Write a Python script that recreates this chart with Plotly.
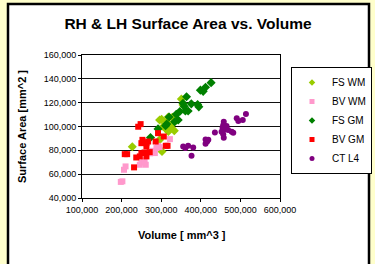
import plotly.graph_objects as go

fs_wm_x = [227000, 296000, 301000, 305000, 313000, 315000, 318000, 324000, 328000, 330000, 333000, 302000, 296000, 351000, 355000, 318000]
fs_wm_y = [83000, 105500, 106000, 100000, 97600, 104000, 95800, 98500, 107700, 102700, 96500, 79000, 88800, 123000, 118000, 108000]

bv_wm_x = [198000, 202000, 206000, 210000, 246000, 250000, 257000, 261000, 258000, 272000, 279000, 284000, 288000, 292000, 296000, 322000]
bv_wm_y = [53500, 54000, 63700, 66500, 67900, 69900, 70000, 67900, 71500, 77500, 79600, 77700, 81900, 83800, 82700, 89400]

fs_gm_x = [273000, 292000, 311000, 314000, 320000, 334000, 338000, 343000, 347000, 355000, 358000, 361000, 364000, 368000, 376000, 392000, 395000, 399000, 406000, 412000, 426000]
fs_gm_y = [90800, 98000, 100600, 102000, 108000, 104000, 110300, 105500, 112600, 119500, 117000, 113000, 125000, 113000, 119000, 118500, 116500, 130500, 129500, 133000, 136800]

bv_gm_x = [208000, 214000, 231500, 237000, 246000, 242000, 248000, 250000, 252600, 250000, 258000, 262700, 262700, 267000, 262700, 271000, 286000, 292000, 306600, 311600, 316000]
bv_gm_y = [76800, 76800, 65700, 74000, 74900, 99800, 102000, 86000, 88800, 77700, 78200, 86000, 83300, 87400, 74900, 78500, 87400, 94400, 91600, 83800, 83800]

ct_l4_x = [355500, 361000, 368000, 380800, 376600, 412000, 416000, 412000, 419000, 435600, 458000, 456600, 465000, 469000, 452400, 456600, 458000, 478000, 482000, 490700, 494800, 506000, 514000, 460000, 455000]
ct_l4_y = [83300, 81900, 83800, 82400, 75400, 89000, 87400, 85500, 88800, 95000, 104000, 101000, 100400, 97000, 95600, 93400, 90600, 95600, 94800, 106900, 104600, 105500, 110500, 97500, 99000]

series = [
    ("FS WM", fs_wm_x, fs_wm_y, "#99CC00", "diamond", 7),
    ("BV WM", bv_wm_x, bv_wm_y, "#FF99CC", "square", 6),
    ("FS GM", fs_gm_x, fs_gm_y, "#008000", "diamond", 7),
    ("BV GM", bv_gm_x, bv_gm_y, "#FF0000", "square", 6),
    ("CT L4", ct_l4_x, ct_l4_y, "#800080", "circle", 6),
]

fig = go.Figure()
for name, xs, ys, color, sym, size in series:
    fig.add_trace(go.Scatter(x=xs, y=ys, mode="markers", name=name, showlegend=False,
                             marker=dict(color=color, symbol=sym, size=size, line=dict(width=0))))
# legend entries with small symbols, as in the reference
for name, xs, ys, color, sym, size in series:
    fig.add_trace(go.Scatter(x=[None], y=[None], mode="markers", name=name,
                             marker=dict(color=color, symbol=sym, size=5, line=dict(width=0))))

L, R, T, B = 82, 280, 55, 198
W, H = 375, 264
pw, ph = R - L, B - T

def px(x):
    return (x - L) / pw

def py(y):
    return (B - y) / ph

fig.add_shape(type="rect", xref="paper", yref="paper",
              x0=px(8), x1=px(369), y0=py(268), y1=py(4),
              line=dict(color="black", width=2.5), fillcolor="white", layer="below")

fig.add_annotation(text="<b>Surface Area [mm^2 ]</b>", xref="paper", yref="paper",
                   x=px(22), y=py(127), textangle=-90, showarrow=False,
                   xanchor="center", yanchor="middle", font=dict(size=11))
fig.add_annotation(text="<b>Volume [ mm^3 ]</b>", xref="paper", yref="paper",
                   x=px(182), y=py(235), showarrow=False,
                   xanchor="center", yanchor="middle", font=dict(size=11))

fig.update_layout(
    width=W, height=H,
    margin=dict(l=L, r=W - R, t=T, b=H - B, autoexpand=False),
    paper_bgcolor="#FFFFCC", plot_bgcolor="white",
    font=dict(family="Liberation Sans, Arial, sans-serif", size=9, color="black"),
    title=dict(text="<b>RH & LH Surface Area vs. Volume</b>", xref="paper", x=px(188),
               xanchor="center", yref="container", y=1 - 24 / H, yanchor="middle",
               font=dict(size=15.5)),
    showlegend=True,
    legend=dict(x=px(291), xanchor="left", y=py(67), yanchor="top",
                bordercolor="black", borderwidth=1, bgcolor="white",
                font=dict(size=10), itemwidth=30, tracegroupgap=0),
    xaxis=dict(range=[100000, 600000], dtick=100000, tickformat=",", showgrid=False,
               showline=True, linecolor="black", linewidth=1, mirror=True,
               ticks="outside", ticklen=3, tickcolor="black", zeroline=False, automargin=False),
    yaxis=dict(range=[40000, 160000], dtick=20000, tickformat=",", showgrid=True,
               gridcolor="#111111", gridwidth=1,
               showline=True, linecolor="black", linewidth=1, mirror=True,
               ticks="outside", ticklen=3, tickcolor="black", zeroline=False, automargin=False),
)

fig.write_html("out.html", config={"displayModeBar": False},
               post_script="document.body.style.margin='0';document.body.style.background='#FFFFCC';")
